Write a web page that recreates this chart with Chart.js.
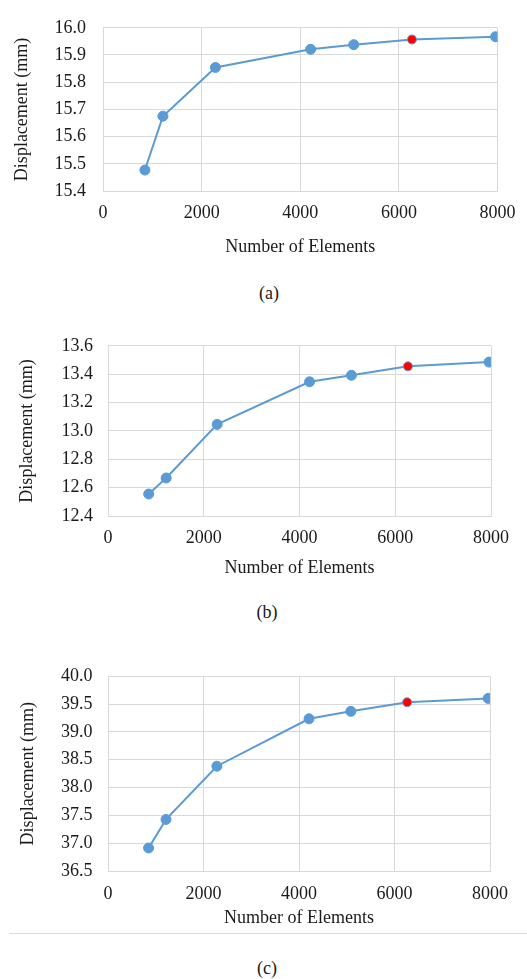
<!DOCTYPE html>
<html lang="en">
<head>
    <meta charset="UTF-8">
    <title>Mesh Convergence</title>
    <script src="https://cdn.jsdelivr.net/npm/chart.js"></script>
    <style>
        * { margin: 0; padding: 0; box-sizing: border-box; }
        body {
            width: 527px;
            height: 979px;
            background: #fff;
            position: relative;
            overflow: hidden;
            font-family: 'Liberation Serif', 'Times New Roman', serif;
            color: #1a1a1a;
        }
        .box { position: absolute; left: 0; width: 527px; }
        .caption {
            position: absolute;
            font-size: 18px;
            line-height: 20px;
            transform: translate(-50%, -50%);
            white-space: nowrap;
        }
        .rule {
            position: absolute;
            left: 9px;
            right: 0;
            top: 933px;
            height: 1px;
            background: #dcdcdc;
        }
    </style>
</head>
<body>
    <div class="box" id="boxA" style="top:0;height:265px"><canvas id="chartA"></canvas></div>
    <div class="caption" style="left:269px;top:293px">(a)</div>

    <div class="box" id="boxB" style="top:320px;height:265px"><canvas id="chartB"></canvas></div>
    <div class="caption" style="left:267px;top:612px">(b)</div>

    <div class="box" id="boxC" style="top:650px;height:290px"><canvas id="chartC"></canvas></div>
    <div class="rule"></div>
    <div class="caption" style="left:267px;top:968px">(c)</div>

    <script>
        // data
        const elements = [850, 1215, 2280, 4210, 5085, 6265, 7960];
        const dispA = [15.477, 15.675, 15.854, 15.921, 15.938, 15.957, 15.967];
        const dispB = [12.555, 12.668, 13.046, 13.346, 13.392, 13.455, 13.485];
        const dispC = [36.914, 37.427, 38.384, 39.236, 39.370, 39.533, 39.603];
        const xTicks = [0, 2000, 4000, 6000, 8000];
        const chosenIndex = 5; // the red (selected) mesh

        const blue = '#5b9bd5';
        const gridColor = '#d9d9d9';
        const textColor = '#1a1a1a';

        Chart.defaults.font.family = 'Liberation Serif';
        Chart.defaults.font.size = 18;
        Chart.defaults.color = textColor;

        function makeChart(id, values, yMin, yMax, yStep, lay) {
            const pts = elements.map((x, i) => ({ x: x, y: values[i] }));
            const fills = elements.map((_, i) => i === chosenIndex ? '#ff0000' : blue);
            const radii = elements.map((_, i) => i === chosenIndex ? 4.5 : 5);
            return new Chart(document.getElementById(id), {
                type: 'scatter',
                data: {
                    datasets: [{
                        data: pts,
                        showLine: true,
                        borderColor: blue,
                        borderWidth: 2,
                        pointBackgroundColor: fills,
                        pointBorderColor: blue,
                        pointBorderWidth: 1,
                        pointRadius: radii
                    }]
                },
                options: {
                    responsive: true,
                    maintainAspectRatio: false,
                    animation: false,
                    events: [],
                    layout: { padding: { top: lay.top, right: lay.right, left: 0, bottom: 0 } },
                    plugins: { legend: { display: false }, tooltip: { enabled: false } },
                    scales: {
                        x: {
                            type: 'linear',
                            min: 0,
                            max: 8000,
                            afterBuildTicks: s => { s.ticks = xTicks.map(v => ({ value: v })); },
                            afterFit: s => { s.height = lay.xh; },
                            grid: { color: gridColor, drawTicks: false },
                            border: { color: gridColor },
                            ticks: {
                                font: { family: 'Liberation Serif', size: 18 },
                                padding: lay.xtp,
                                maxRotation: 0,
                                callback: v => String(v)
                            },
                            title: {
                                display: true,
                                text: 'Number of Elements',
                                font: { family: 'Liberation Serif', size: 18 },
                                padding: { top: 0, bottom: lay.xtt }
                            }
                        },
                        y: {
                            min: yMin,
                            max: yMax,
                            afterFit: s => { s.width = lay.yw; },
                            grid: { color: gridColor, drawTicks: false },
                            border: { color: gridColor },
                            ticks: {
                                stepSize: yStep,
                                font: { family: 'Liberation Serif', size: 18 },
                                padding: lay.ytp,
                                callback: v => Number(v).toFixed(1)
                            },
                            title: {
                                display: true,
                                text: 'Displacement (mm)',
                                font: { family: 'Liberation Serif', size: 18 },
                                padding: { top: lay.ytt, bottom: 0 }
                            }
                        }
                    }
                }
            });
        }

        makeChart('chartA', dispA, 15.4, 16.0, 0.1,
            { top: 14, right: 29, xh: 74, yw: 103, xtp: 11.5, xtt: 7, ytp: 17, ytt: 11 });
        makeChart('chartB', dispB, 12.4, 13.6, 0.2,
            { top: 22.7, right: 36, xh: 69, yw: 108, xtp: 11, xtt: 6, ytp: 15, ytt: 16 });
        makeChart('chartC', dispC, 36.5, 40.0, 0.5,
            { top: 21, right: 37, xh: 69, yw: 108, xtp: 12, xtt: 11, ytp: 15.5, ytt: 17 });
    </script>
</body>
</html>
